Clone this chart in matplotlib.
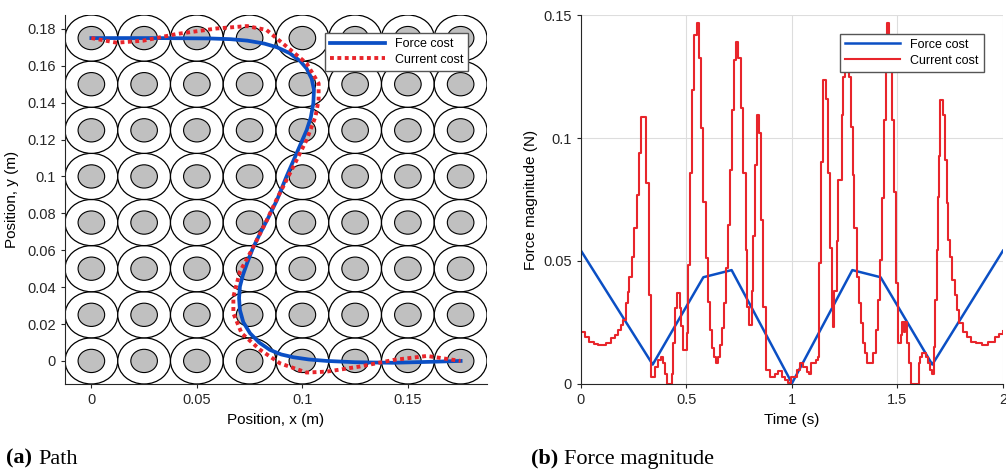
import matplotlib
matplotlib.use("Agg")
import matplotlib.pyplot as plt
from matplotlib.patches import Circle

plt.rcParams["font.family"] = ["Liberation Sans", "DejaVu Sans"]

# magnet grid (centres, m)
magnet_x = [0.0, 0.025, 0.05, 0.075, 0.1, 0.125, 0.15, 0.175]
magnet_y = [0.0, 0.025, 0.05, 0.075, 0.1, 0.125, 0.15, 0.175]
outer_r = 0.0125
inner_r = 0.0063

# path, force cost
force_x = [0.0, 0.03, 0.056, 0.066, 0.074, 0.082, 0.088, 0.094, 0.099, 0.102, 0.1044,
           0.1055, 0.1052, 0.104, 0.102, 0.0973, 0.0925, 0.088, 0.084, 0.080, 0.0765,
           0.0738, 0.0718, 0.0704, 0.0700, 0.0704, 0.0720, 0.0752, 0.0795, 0.0846,
           0.0900, 0.0957, 0.103, 0.1115, 0.125, 0.143, 0.160, 0.175]
force_y = [0.175, 0.175, 0.1748, 0.1744, 0.1736, 0.1720, 0.1700, 0.1668, 0.1625, 0.1585,
           0.1530, 0.1470, 0.1397, 0.1320, 0.125, 0.1126, 0.1000, 0.0873, 0.0780, 0.0692,
           0.0610, 0.0530, 0.0465, 0.0403, 0.0340, 0.0276, 0.0210, 0.015, 0.0100, 0.006,
           0.0035, 0.002, 0.0008, 0.0, -0.0007, -0.001, -0.0005, 0.0]

# path, current cost
current_x = [0.0, 0.012, 0.0246, 0.0404, 0.0594, 0.0738, 0.083, 0.0926, 0.102, 0.1077,
             0.1077, 0.1062, 0.102, 0.0957, 0.0877, 0.0832, 0.076, 0.0704, 0.0673,
             0.0673, 0.0712, 0.080, 0.0894, 0.102, 0.1115, 0.1274, 0.143, 0.159, 0.175]
current_y = [0.175, 0.1725, 0.1736, 0.1772, 0.1802, 0.1815, 0.1794, 0.1703, 0.1613, 0.1504,
             0.1415, 0.1324, 0.1198, 0.1053, 0.0873, 0.0764, 0.0601, 0.0484, 0.0348,
             0.0258, 0.015, 0.006, -0.0013, -0.0063, -0.0058, -0.003, 0.0005, 0.0027, 0.0]

# force magnitude vs time
force_t = [0.0, 0.34, 0.58, 0.714, 1.0, 1.286, 1.42, 1.665, 2.0]
force_mag = [0.0542, 0.0079, 0.0434, 0.0463, 0.0003, 0.0463, 0.0434, 0.0079, 0.0542]

current_t = [0.0, 0.02, 0.04, 0.06, 0.08, 0.10, 0.12, 0.144, 0.16, 0.175, 0.19, 0.199,
             0.212, 0.223, 0.23, 0.242, 0.251, 0.264, 0.275, 0.286, 0.31, 0.322, 0.333,
             0.352, 0.365, 0.377, 0.389, 0.40, 0.409, 0.431, 0.438, 0.445, 0.455, 0.468,
             0.476, 0.485, 0.501, 0.509, 0.517, 0.525, 0.537, 0.548, 0.559, 0.569, 0.580,
             0.591, 0.6, 0.611, 0.622, 0.632, 0.638, 0.651, 0.659, 0.667, 0.678, 0.687,
             0.695, 0.706, 0.714, 0.727, 0.735, 0.746, 0.758, 0.769, 0.780, 0.788, 0.798,
             0.809, 0.817, 0.825, 0.833, 0.844, 0.853, 0.864, 0.875, 0.896, 0.919, 0.935,
             0.951, 0.967, 0.982, 0.995, 1.006, 1.022, 1.038, 1.054, 1.069, 1.082, 1.088,
             1.114, 1.125, 1.129, 1.137, 1.145, 1.161, 1.169, 1.180, 1.189, 1.196, 1.2,
             1.205, 1.215, 1.22, 1.236, 1.243, 1.25, 1.268, 1.279, 1.288, 1.295, 1.306,
             1.316, 1.326, 1.336, 1.346, 1.357, 1.385, 1.397, 1.409, 1.417, 1.425, 1.436,
             1.445, 1.452, 1.462, 1.472, 1.485, 1.495, 1.502, 1.515, 1.522, 1.53, 1.537,
             1.545, 1.555, 1.562, 1.600, 1.606, 1.614, 1.635, 1.645, 1.655, 1.665, 1.674,
             1.68, 1.686, 1.69, 1.695, 1.70, 1.715, 1.725, 1.733, 1.741, 1.75, 1.76, 1.772,
             1.782, 1.793, 1.81, 1.83, 1.85, 1.87, 1.90, 1.93, 1.96, 1.98, 2.0]
current_mag = [0.0213, 0.019, 0.0172, 0.0163, 0.0159, 0.0159, 0.0168, 0.0186, 0.020, 0.022,
               0.024, 0.026, 0.0328, 0.0375, 0.0436, 0.0518, 0.0633, 0.0768, 0.0938, 0.1087,
               0.0816, 0.0362, 0.003, 0.007, 0.0097, 0.011, 0.0084, 0.004, 0.0, 0.004,
               0.0165, 0.0309, 0.037, 0.031, 0.0235, 0.0138, 0.0207, 0.0484, 0.0856, 0.1195,
               0.1419, 0.1466, 0.1324, 0.1039, 0.0741, 0.0511, 0.0335, 0.0219, 0.0145, 0.011,
               0.0084, 0.011, 0.0159, 0.0226, 0.0328, 0.047, 0.0646, 0.087, 0.1114, 0.1317,
               0.1392, 0.1324, 0.112, 0.0856, 0.0545, 0.0314, 0.024, 0.0378, 0.06, 0.0891,
               0.1093, 0.1019, 0.0667, 0.0314, 0.0057, 0.003, 0.0041, 0.0054, 0.003, 0.0016,
               0.0003, 0.003, 0.003, 0.0057, 0.0084, 0.007, 0.005, 0.004, 0.0084, 0.0097,
               0.011, 0.049, 0.0904, 0.1236, 0.116, 0.0856, 0.0552, 0.0314, 0.0233, 0.0378,
               0.0378, 0.058, 0.0829, 0.1093, 0.1249, 0.134, 0.125, 0.1046, 0.085, 0.0633,
               0.0436, 0.0328, 0.0247, 0.0165, 0.0125, 0.0084, 0.0125, 0.0219, 0.0341, 0.0504,
               0.0755, 0.1073, 0.1303, 0.1466, 0.1303, 0.1073, 0.0782, 0.0409, 0.0165, 0.0199,
               0.0252, 0.0213, 0.0252, 0.0165, 0.0084, 0.0, 0.0084, 0.011, 0.0125, 0.011,
               0.0084, 0.0057, 0.0041, 0.0152, 0.0341, 0.0545, 0.0762, 0.0925, 0.1155, 0.1093,
               0.091, 0.0734, 0.0585, 0.0518, 0.0423, 0.0362, 0.0301, 0.0247, 0.0213, 0.019,
               0.0172, 0.0165, 0.016, 0.0172, 0.0193, 0.0205, 0.0215]

blue = "#0B4FC4"
red = "#E8252B"
spine_col = "#262626"

fig = plt.figure(figsize=(10.06, 4.75), dpi=100)
ax1 = fig.add_axes([0.0646, 0.1916, 0.4195, 0.7768])
ax2 = fig.add_axes([0.5775, 0.1916, 0.4195, 0.7768])

# --- (a) path ---
for cy in magnet_y:
    for cx in magnet_x:
        ax1.add_patch(Circle((cx, cy), outer_r, facecolor="white", edgecolor="black", lw=0.9))
        ax1.add_patch(Circle((cx, cy), inner_r, facecolor="#C0C0C0", edgecolor="black", lw=0.8))
ax1.plot(force_x, force_y, color=blue, lw=2.7, label="Force cost", solid_joinstyle="round")
ax1.plot(current_x, current_y, color=red, lw=2.8, ls=(0, (1, 0.9)), label="Current cost")
ax1.set_xlim(-0.0125, 0.1875)
ax1.set_ylim(-0.0125, 0.1875)
ax1.set_xticks([0, 0.05, 0.1, 0.15])
ax1.set_xticklabels(["0", "0.05", "0.1", "0.15"])
ax1.set_yticks([0, 0.02, 0.04, 0.06, 0.08, 0.1, 0.12, 0.14, 0.16, 0.18])
ax1.set_yticklabels(["0", "0.02", "0.04", "0.06", "0.08", "0.1", "0.12", "0.14", "0.16", "0.18"])
ax1.set_xlabel("Position, x (m)", fontsize=11)
ax1.set_ylabel("Position, y (m)", fontsize=11, labelpad=6)
ax1.legend(loc="upper right", bbox_to_anchor=(0.97, 0.968), fontsize=9, handlelength=4.4,
           fancybox=False, edgecolor="#555555", framealpha=1, borderpad=0.4, labelspacing=0.3)

# --- (b) force magnitude ---
ax2.plot(force_t, force_mag, color=blue, lw=1.8, label="Force cost")
ax2.plot(current_t, current_mag, color=red, lw=1.5, drawstyle="steps-post", label="Current cost")
ax2.set_xlim(0, 2)
ax2.set_ylim(0, 0.15)
ax2.set_xticks([0, 0.5, 1, 1.5, 2])
ax2.set_xticklabels(["0", "0.5", "1", "1.5", "2"])
ax2.set_yticks([0, 0.05, 0.1, 0.15])
ax2.set_yticklabels(["0", "0.05", "0.1", "0.15"])
ax2.grid(True, color="#DDDDDD", lw=0.8)
ax2.set_axisbelow(True)
ax2.set_xlabel("Time (s)", fontsize=11)
ax2.set_ylabel("Force magnitude (N)", fontsize=11)
ax2.legend(loc="upper right", bbox_to_anchor=(0.969, 0.966), fontsize=9, handlelength=4.4,
           fancybox=False, edgecolor="#555555", framealpha=1, borderpad=0.4, labelspacing=0.3)

for ax in (ax1, ax2):
    ax.spines["top"].set_visible(False)
    ax.spines["right"].set_visible(False)
    for s in ("left", "bottom"):
        ax.spines[s].set_color(spine_col)
        ax.spines[s].set_linewidth(0.8)
    ax.tick_params(direction="out", length=3, width=0.8, colors=spine_col, labelsize=10.5)

# captions
fig.text(0.006, 0.024, "(a)", fontsize=16, family="Liberation Serif", weight="bold")
fig.text(0.038, 0.024, "Path", fontsize=16, family="Liberation Serif")
fig.text(0.528, 0.024, "(b)", fontsize=16, family="Liberation Serif", weight="bold")
fig.text(0.561, 0.024, "Force magnitude", fontsize=16, family="Liberation Serif")

fig.savefig("out.png", dpi=100)
